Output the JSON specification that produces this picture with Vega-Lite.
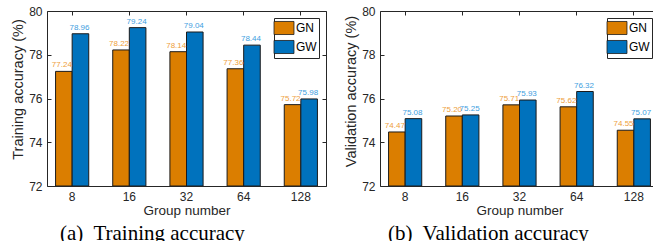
{
  "$schema": "https://vega.github.io/schema/vega-lite/v6.json",
  "padding": {"left": 10, "top": 5, "right": 0, "bottom": 0},
  "config": {
    "font": "Liberation Sans",
    "view": {"stroke": null},
    "axis": {"labelFontSize": 12, "titleFontSize": 13.5, "titleFontWeight": "normal", "labelColor": "#262626", "titleColor": "#262626", "domainColor": "#262626", "tickColor": "#262626", "grid": false}
  },
  "datasets": {
    "train": [
      {"group": "8", "method": "GN", "acc": 77.24},
      {"group": "8", "method": "GW", "acc": 78.96},
      {"group": "16", "method": "GN", "acc": 78.22},
      {"group": "16", "method": "GW", "acc": 79.24},
      {"group": "32", "method": "GN", "acc": 78.14},
      {"group": "32", "method": "GW", "acc": 79.04},
      {"group": "64", "method": "GN", "acc": 77.36},
      {"group": "64", "method": "GW", "acc": 78.44},
      {"group": "128", "method": "GN", "acc": 75.72},
      {"group": "128", "method": "GW", "acc": 75.98}
    ],
    "val": [
      {"group": "8", "method": "GN", "acc": 74.47},
      {"group": "8", "method": "GW", "acc": 75.08},
      {"group": "16", "method": "GN", "acc": 75.20},
      {"group": "16", "method": "GW", "acc": 75.25},
      {"group": "32", "method": "GN", "acc": 75.71},
      {"group": "32", "method": "GW", "acc": 75.93},
      {"group": "64", "method": "GN", "acc": 75.62},
      {"group": "64", "method": "GW", "acc": 76.32},
      {"group": "128", "method": "GN", "acc": 74.55},
      {"group": "128", "method": "GW", "acc": 75.07}
    ]
  },
  "hconcat": [
    {
      "width": 279, "height": 175,
      "data": {"name": "train"},
      "title": {"text": "(a)\u00a0 Training accuracy", "orient": "bottom", "anchor": "start", "frame": "group", "dx": 13, "font": "Liberation Serif", "fontSize": 21, "fontWeight": "normal", "color": "#000000", "offset": 6},
      "encoding": {
        "x": {"field": "group", "type": "nominal", "sort": ["8", "16", "32", "64", "128"], "scale": {"paddingInner": 0.42, "paddingOuter": 0.15}, "axis": null},
        "xOffset": {"field": "method", "type": "nominal", "scale": {"paddingInner": 0, "paddingOuter": 0}},
        "y": {"field": "acc", "type": "quantitative", "scale": {"domain": [72, 80], "nice": false, "zero": false}, "axis": null}
      },
      "layer": [
        {
          "mark": {"type": "bar", "stroke": "#1a1a1a", "strokeWidth": 1, "clip": true},
          "encoding": {
            "x": {"field": "group", "type": "nominal", "sort": ["8", "16", "32", "64", "128"], "axis": {"title": "Group number", "labelAngle": 0, "tickSize": -4, "labelPadding": 9, "titlePadding": 1}},
            "y": {"field": "acc", "type": "quantitative", "axis": {"title": "Training accuracy (%)", "titleFontSize": 14.5, "titleY": 78, "values": [72, 74, 76, 78, 80], "tickSize": -4, "labelPadding": 9, "titlePadding": 3}},
            "y2": {"datum": 72},
            "color": {"field": "method", "type": "nominal", "scale": {"domain": ["GN", "GW"], "range": ["#DB7E00", "#0072BD"]},
              "legend": {"title": null, "orient": "top-right", "offset": 7, "strokeColor": "#262626", "fillColor": "#ffffff", "padding": 2, "rowPadding": 1, "labelFontSize": 12, "labelColor": "#000000", "labelOffset": 4, "symbolType": "M-1.33,-0.87H1.33V0.87H-1.33Z", "symbolSize": 225, "symbolStrokeColor": "#1a1a1a", "symbolStrokeWidth": 0.8, "symbolOpacity": 1}}
          }
        },
        {
          "transform": [{"filter": "datum.method === 'GN'"}],
          "mark": {"type": "text", "fontSize": 8, "dy": -6, "dx": -2, "color": "#EE9E3A"},
          "encoding": {
            "x": {"field": "group", "type": "nominal", "sort": ["8", "16", "32", "64", "128"], "axis": {"orient": "top", "labels": false, "title": null, "tickSize": -4}},
            "y": {"field": "acc", "type": "quantitative", "axis": {"orient": "right", "labels": false, "title": null, "tickSize": -4, "values": [72, 74, 76, 78, 80]}},
            "text": {"field": "acc", "type": "quantitative", "format": ".2f"}
          }
        },
        {
          "transform": [{"filter": "datum.method === 'GW'"}],
          "mark": {"type": "text", "fontSize": 8, "dy": -6, "dx": -1, "color": "#3E9EE0"},
          "encoding": {
            "text": {"field": "acc", "type": "quantitative", "format": ".2f"}
          }
        }
      ],
      "resolve": {"axis": {"x": "independent", "y": "independent"}}
    },
    {
      "width": 279, "height": 175,
      "data": {"name": "val"},
      "title": {"text": "(b)\u00a0 Validation accuracy", "orient": "bottom", "anchor": "start", "frame": "group", "dx": 8, "font": "Liberation Serif", "fontSize": 21, "fontWeight": "normal", "color": "#000000", "offset": 6},
      "encoding": {
        "x": {"field": "group", "type": "nominal", "sort": ["8", "16", "32", "64", "128"], "scale": {"paddingInner": 0.42, "paddingOuter": 0.15}, "axis": null},
        "xOffset": {"field": "method", "type": "nominal", "scale": {"paddingInner": 0, "paddingOuter": 0}},
        "y": {"field": "acc", "type": "quantitative", "scale": {"domain": [72, 80], "nice": false, "zero": false}, "axis": null}
      },
      "layer": [
        {
          "mark": {"type": "bar", "stroke": "#1a1a1a", "strokeWidth": 1, "clip": true},
          "encoding": {
            "x": {"field": "group", "type": "nominal", "sort": ["8", "16", "32", "64", "128"], "axis": {"title": "Group number", "labelAngle": 0, "tickSize": -4, "labelPadding": 9, "titlePadding": 1}},
            "y": {"field": "acc", "type": "quantitative", "axis": {"title": "Validation accuracy (%)", "titleFontSize": 14.5, "titleY": 80, "values": [72, 74, 76, 78, 80], "tickSize": -4, "labelPadding": 9, "titlePadding": 3}},
            "y2": {"datum": 72},
            "color": {"field": "method", "type": "nominal", "scale": {"domain": ["GN", "GW"], "range": ["#DB7E00", "#0072BD"]},
              "legend": {"title": null, "orient": "top-right", "offset": 7, "strokeColor": "#262626", "fillColor": "#ffffff", "padding": 2, "rowPadding": 1, "labelFontSize": 12, "labelColor": "#000000", "labelOffset": 4, "symbolType": "M-1.33,-0.87H1.33V0.87H-1.33Z", "symbolSize": 225, "symbolStrokeColor": "#1a1a1a", "symbolStrokeWidth": 0.8, "symbolOpacity": 1}}
          }
        },
        {
          "transform": [{"filter": "datum.method === 'GN'"}],
          "mark": {"type": "text", "fontSize": 8, "dy": -6, "dx": -2, "color": "#EE9E3A"},
          "encoding": {
            "x": {"field": "group", "type": "nominal", "sort": ["8", "16", "32", "64", "128"], "axis": {"orient": "top", "labels": false, "title": null, "tickSize": -4}},
            "y": {"field": "acc", "type": "quantitative", "axis": {"orient": "right", "labels": false, "title": null, "tickSize": -4, "values": [72, 74, 76, 78, 80]}},
            "text": {"field": "acc", "type": "quantitative", "format": ".2f"}
          }
        },
        {
          "transform": [{"filter": "datum.method === 'GW'"}],
          "mark": {"type": "text", "fontSize": 8, "dy": -6, "dx": -1, "color": "#3E9EE0"},
          "encoding": {
            "text": {"field": "acc", "type": "quantitative", "format": ".2f"}
          }
        }
      ],
      "resolve": {"axis": {"x": "independent", "y": "independent"}}
    }
  ],
  "resolve": {"legend": {"color": "independent"}, "scale": {"color": "independent"}},
  "spacing": 16
}
